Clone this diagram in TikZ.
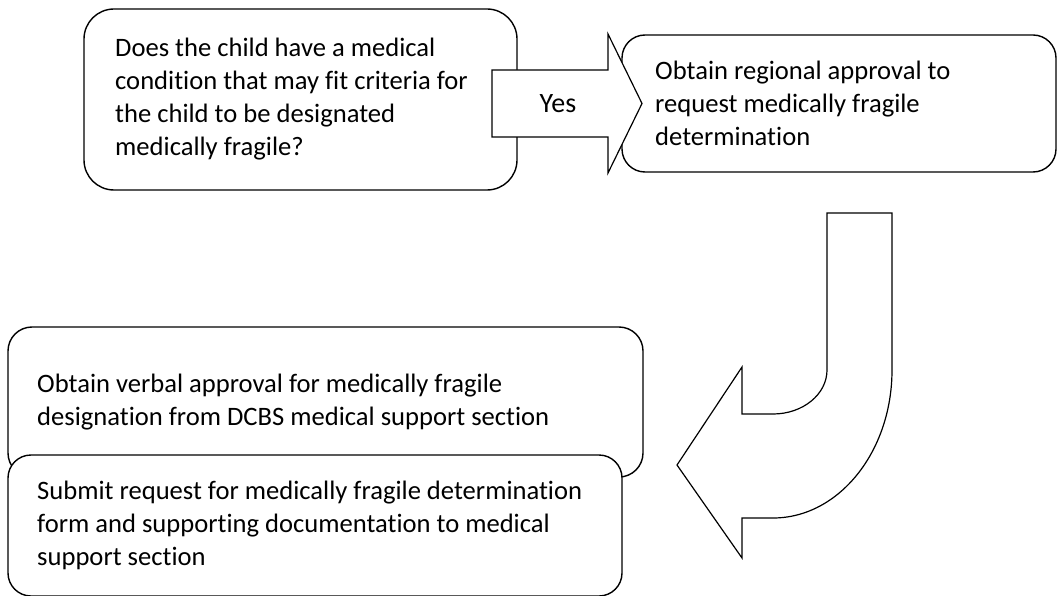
\documentclass[tikz,border=0pt]{standalone}
\usepackage{fontspec}
\setmainfont{Carlito}[Ligatures=CommonOff]
\begin{document}
\begin{tikzpicture}[x=1pt,y=-1pt,
  box/.style={draw=black, line width=1.4pt, fill=white, inner sep=0pt},
  txt/.style={anchor=west, align=left, inner sep=0pt, font=\fontsize{26.6}{33}\selectfont},
  shapearrow/.style={draw=black, line width=1.2pt, fill=white, line join=miter}]
\useasboundingbox (0,0) rectangle (1057,596);
% top row
\node[box, rounded corners=30pt, minimum width=433pt, minimum height=181pt] (q) at (300.5,99.5) {};
\node[txt] (qt) at (115,99.5)
  {Does the child have a medical\\condition that may fit criteria for\\the child to be designated\\medically fragile?};
\node[box, rounded corners=23pt, minimum width=434pt, minimum height=137pt] (reg) at (839,103.5) {};
\node[txt] (regt) at (655,103.5)
  {Obtain regional approval to\\request medically fragile\\determination};
% Yes arrow
\draw[shapearrow] (492,70) -- (608,70) -- (608,34) -- (642,103.5) -- (608,173) -- (608,137) -- (492,137) -- cycle;
\node[font=\fontsize{28}{33}\selectfont, inner sep=0pt] (yes) at (558,104) {Yes};
% bent arrow
\draw[shapearrow] (827,213) -- (892,213) -- (892,370)
  .. controls (892,451.7) and (838.7,518) .. (773,518)
  -- (742,518) -- (742,558) -- (677,465) -- (742,367) -- (742,414) -- (773,414)
  .. controls (802.8,414) and (827,394.3) .. (827,370) -- cycle;
% bottom boxes
\node[box, rounded corners=24pt, minimum width=635pt, minimum height=150pt] (verbal) at (325.5,402) {};
\node[txt] (verbalt) at (37,402)
  {Obtain verbal approval for medically fragile\\designation from DCBS medical support section};
\node[box, rounded corners=23pt, minimum width=614pt, minimum height=141pt] (submit) at (315,525.5) {};
\node[txt] (submitt) at (37,525.5)
  {Submit request for medically fragile determination\\form and supporting documentation to medical\\support section};
\end{tikzpicture}
\end{document}
